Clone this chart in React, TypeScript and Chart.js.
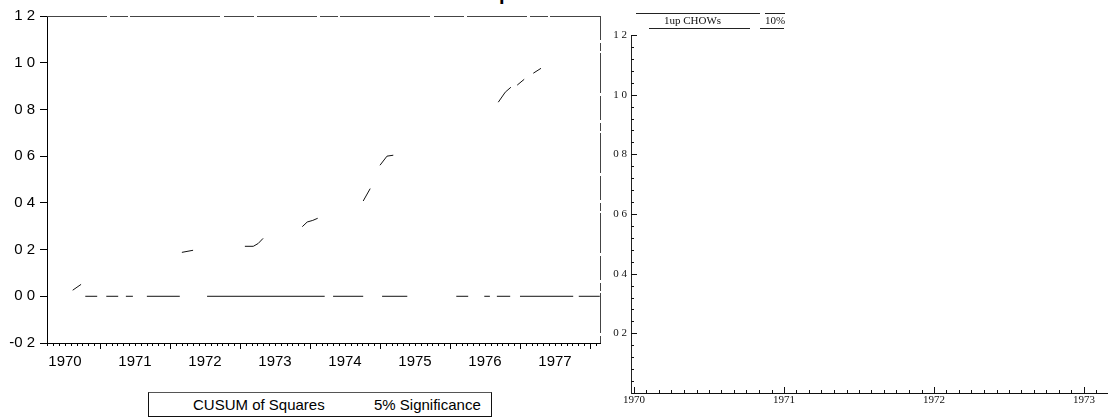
import { useEffect, useRef } from "react";
import { Chart, registerables } from "chart.js";

Chart.register(...registerables);

// ---- Left panel: CUSUM of Squares (scan fragments; null = gap in the print) ----
const cusumDates = [
  1970.61, 1970.73, 1971.0,
  1972.17, 1972.33, 1972.6,
  1973.07, 1973.19, 1973.26, 1973.33, 1973.6,
  1973.89, 1973.96, 1974.04, 1974.11, 1974.4,
  1974.76, 1974.86, 1974.93,
  1975.0, 1975.1, 1975.19, 1975.5,
  1976.69, 1976.79, 1976.87, 1976.91,
  1976.96, 1977.06, 1977.12,
  1977.19, 1977.3,
];
const cusumValues = [
  0.026, 0.051, null,
  0.188, 0.197, null,
  0.214, 0.214, 0.226, 0.248, null,
  0.298, 0.318, 0.325, 0.334, null,
  0.408, 0.461, null,
  0.561, 0.6, 0.604, null,
  0.831, 0.874, 0.895, null,
  0.904, 0.929, null,
  0.955, 0.976,
];
const sigDates = [
  1970.79, 1970.96, 1971.0,
  1971.09, 1971.26, 1971.3,
  1971.37, 1971.47, 1971.55,
  1971.67, 1972.14, 1972.3,
  1972.53, 1974.21, 1974.27,
  1974.33, 1974.76, 1974.9,
  1975.03, 1975.39, 1975.7,
  1976.09, 1976.26, 1976.35,
  1976.49, 1976.57, 1976.62,
  1976.67, 1976.86, 1976.93,
  1977.0, 1977.76, 1977.8,
  1977.84, 1978.14,
];
const sigValues = [
  0, 0, null,
  0, 0, null,
  0, 0, null,
  0, 0, null,
  0, 0, null,
  0, 0, null,
  0, 0, null,
  0, 0, null,
  0, 0, null,
  0, 0, null,
  0, 0, null,
  0, 0,
];
const leftYTicks = [-0.2, 0, 0.2, 0.4, 0.6, 0.8, 1.0, 1.2];
const leftYearLabels = [1970, 1971, 1972, 1973, 1974, 1975, 1976, 1977];
const leftLegend = ["CUSUM of Squares", "5% Significance"];

// ---- Right panel: one-step Chow tests (no marks survive in the print) ----
const chowDates: number[] = [];
const chowValues: number[] = [];
const chowCritValues: number[] = [];
const rightYTicks = [0.2, 0.4, 0.6, 0.8, 1.0, 1.2];
const rightYearLabels = [1970, 1971, 1972, 1973];
const rightLegend = ["1up CHOWs", "10%"];

const SANS = '"Liberation Sans", Arial, Helvetica, sans-serif';
const SERIF = '"Liberation Serif", "Times New Roman", Times, serif';

const fmt = (v: number) => v.toFixed(1).replace(".", " ");

const leftFrame = {
  id: "leftFrame",
  afterDraw(chart: any) {
    const { ctx, chartArea: a } = chart;
    const x = chart.scales.x;
    ctx.save();
    ctx.lineWidth = 1;
    ctx.strokeStyle = "#444";
    ctx.setLineDash([60, 3, 18, 2, 90, 4, 30, 3]);
    ctx.beginPath();
    ctx.moveTo(a.left, Math.round(a.top) + 0.5);
    ctx.lineTo(a.right, Math.round(a.top) + 0.5);
    ctx.stroke();
    ctx.setLineDash([24, 3, 8, 2, 40, 3]);
    ctx.beginPath();
    ctx.moveTo(Math.round(a.right) + 0.5, a.top);
    ctx.lineTo(Math.round(a.right) + 0.5, a.bottom);
    ctx.stroke();
    ctx.setLineDash([]);
    ctx.strokeStyle = "#000";
    ctx.beginPath();
    for (let yr = Math.floor(x.min); yr <= Math.ceil(x.max); yr++) {
      for (let m = 0; m < 12; m++) {
        const v = yr + m / 12;
        if (v < x.min || v > x.max) continue;
        const px = Math.round(x.getPixelForValue(v)) + 0.5;
        const len = m === 0 ? 6 : 3;
        ctx.moveTo(px, a.bottom);
        ctx.lineTo(px, a.bottom + len);
      }
    }
    ctx.stroke();
    ctx.restore();
  },
};

const rightFrame = {
  id: "rightFrame",
  afterDraw(chart: any) {
    const { ctx, chartArea: a } = chart;
    const x = chart.scales.x;
    const y = chart.scales.y;
    ctx.save();
    ctx.lineWidth = 1;
    ctx.strokeStyle = "#111";
    ctx.beginPath();
    for (let yr = Math.floor(x.min); yr <= Math.ceil(x.max); yr++) {
      for (let m = 0; m < 12; m++) {
        const v = yr + m / 12;
        if (v < x.min || v > x.max) continue;
        const px = Math.round(x.getPixelForValue(v)) + 0.5;
        const len = m === 0 ? 6 : 3;
        ctx.moveTo(px, a.bottom);
        ctx.lineTo(px, a.bottom - len);
      }
    }
    for (let k = 1; k <= 30; k++) {
      const v = k * 0.04;
      const py = Math.round(y.getPixelForValue(v)) + 0.5;
      const len = k % 5 === 0 ? 6 : 3;
      ctx.moveTo(a.left, py);
      ctx.lineTo(a.left + len, py);
    }
    ctx.stroke();
    ctx.restore();
  },
};

export default function App() {
  const leftRef = useRef<HTMLCanvasElement>(null);
  const rightRef = useRef<HTMLCanvasElement>(null);

  useEffect(() => {
    const left = new Chart(leftRef.current as HTMLCanvasElement, {
      type: "line",
      data: {
        datasets: [
          {
            label: leftLegend[0],
            data: cusumDates.map((d, i) => ({ x: d, y: cusumValues[i] })) as any,
            borderColor: "#111",
            borderWidth: 1,
            pointRadius: 0,
            tension: 0,
            spanGaps: false,
          },
          {
            label: leftLegend[1],
            data: sigDates.map((d, i) => ({ x: d, y: sigValues[i] })) as any,
            borderColor: "#111",
            borderWidth: 1,
            pointRadius: 0,
            tension: 0,
            spanGaps: false,
          },
        ],
      },
      options: {
        animation: false,
        responsive: false,
        layout: { padding: { top: 16, right: 5, left: 0, bottom: 0 } },
        plugins: { legend: { display: false }, tooltip: { enabled: false } },
        scales: {
          x: {
            type: "linear",
            min: 1970.243,
            max: 1978.143,
            grid: { display: false, drawTicks: false },
            border: { display: true, color: "#000", width: 1 },
            afterBuildTicks: (s: any) => {
              s.ticks = leftYearLabels.map((v) => ({ value: v + 0.5 }));
            },
            afterFit: (s: any) => {
              s.height = 37;
            },
            ticks: {
              autoSkip: false,
              maxRotation: 0,
              padding: 10,
              color: "#000",
              font: { family: SANS, size: 15 },
              callback: (v: any) => String(Math.floor(Number(v))),
            },
          },
          y: {
            type: "linear",
            min: -0.2,
            max: 1.2,
            grid: { display: true, drawOnChartArea: false, drawTicks: true, tickLength: 7, tickColor: "#000" },
            border: { display: true, color: "#000", width: 1 },
            afterBuildTicks: (s: any) => {
              s.ticks = leftYTicks.map((v) => ({ value: v }));
            },
            afterFit: (s: any) => {
              s.width = 47;
            },
            ticks: {
              padding: 5,
              color: "#000",
              font: { family: SANS, size: 15 },
              callback: (v: any) => fmt(Number(v)),
            },
          },
        },
      },
      plugins: [leftFrame],
    });

    const right = new Chart(rightRef.current as HTMLCanvasElement, {
      type: "line",
      data: {
        datasets: [
          {
            label: rightLegend[0],
            data: chowDates.map((d, i) => ({ x: d, y: chowValues[i] })) as any,
            borderColor: "#111",
            borderWidth: 1,
            pointRadius: 0,
          },
          {
            label: rightLegend[1],
            data: chowDates.map((d, i) => ({ x: d, y: chowCritValues[i] })) as any,
            borderColor: "#111",
            borderWidth: 1,
            pointRadius: 0,
          },
        ],
      },
      options: {
        animation: false,
        responsive: false,
        layout: { padding: { top: 35, right: 0, left: 0, bottom: 0 } },
        plugins: { legend: { display: false }, tooltip: { enabled: false } },
        scales: {
          x: {
            type: "linear",
            min: 1969.98,
            max: 1973.16,
            grid: { display: false, drawTicks: false },
            border: { display: true, color: "#111", width: 1 },
            afterBuildTicks: (s: any) => {
              s.ticks = rightYearLabels.map((v) => ({ value: v }));
            },
            afterFit: (s: any) => {
              s.height = 27;
            },
            ticks: {
              autoSkip: false,
              maxRotation: 0,
              padding: 1,
              color: "#111",
              font: { family: SERIF, size: 11 },
              callback: (v: any) => String(Math.round(Number(v))),
            },
          },
          y: {
            type: "linear",
            min: 0,
            max: 1.2,
            grid: { display: false, drawTicks: false },
            border: { display: true, color: "#222", width: 1, dash: [34, 5, 12, 4, 48, 6, 20, 3] },
            afterBuildTicks: (s: any) => {
              s.ticks = rightYTicks.map((v) => ({ value: v }));
            },
            afterFit: (s: any) => {
              s.width = 26;
            },
            ticks: {
              padding: 4,
              color: "#111",
              font: { family: SERIF, size: 11 },
              callback: (v: any) => fmt(Number(v)),
            },
          },
        },
      },
      plugins: [rightFrame],
    });

    return () => {
      left.destroy();
      right.destroy();
    };
  }, []);

  const line = (l: number, t: number, w: number, h = 1, c = "#222") => (
    <div style={{ position: "absolute", left: l, top: t, width: w, height: h, background: c }} />
  );

  return (
    <div
      style={{
        position: "absolute",
        left: 0,
        top: 0,
        width: 1108,
        height: 420,
        overflow: "hidden",
        background: "#fff",
      }}
    >
      <div
        style={{
          position: "absolute",
          left: 499,
          top: -17,
          font: `bold 20px ${SANS}`,
          lineHeight: "20px",
          color: "#000",
        }}
      >
        p
      </div>
      <canvas ref={leftRef} width={605} height={380} style={{ position: "absolute", left: 0, top: 0 }} />
      <canvas ref={rightRef} width={503} height={420} style={{ position: "absolute", left: 605, top: 0 }} />

      <div
        style={{
          position: "absolute",
          left: 148,
          top: 392,
          width: 344,
          height: 25,
          boxSizing: "border-box",
          border: "1px solid #111",
          borderTopColor: "#555",
          font: `15px ${SANS}`,
          color: "#000",
        }}
      >
        <span style={{ position: "absolute", left: 44, top: 0, lineHeight: "23px", whiteSpace: "nowrap" }}>
          {leftLegend[0]}
        </span>
        <span style={{ position: "absolute", left: 225, top: 0, lineHeight: "23px", whiteSpace: "nowrap" }}>
          {leftLegend[1]}
        </span>
      </div>

      {line(636, 13, 124, 1)}
      {line(765, 13, 20, 1)}
      <span
        style={{
          position: "absolute",
          left: 664,
          top: 14,
          font: `11px ${SERIF}`,
          lineHeight: "13px",
          color: "#111",
          whiteSpace: "nowrap",
        }}
      >
        {rightLegend[0]}
      </span>
      <span
        style={{
          position: "absolute",
          left: 765,
          top: 14,
          font: `11px ${SERIF}`,
          lineHeight: "13px",
          color: "#111",
          whiteSpace: "nowrap",
        }}
      >
        {rightLegend[1]}
      </span>
      {line(649, 28, 101, 1)}
      {line(760, 28, 24, 1)}
    </div>
  );
}
